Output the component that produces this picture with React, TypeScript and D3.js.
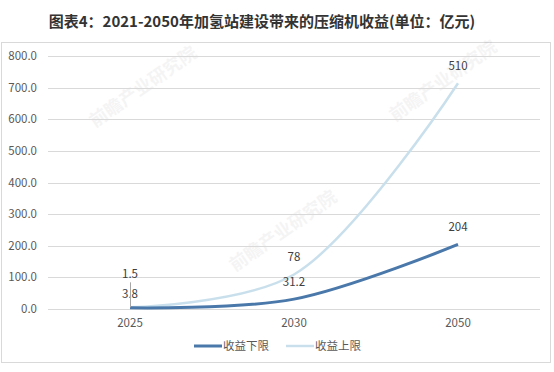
import React, { useRef, useEffect } from 'react';
import * as d3 from 'd3';

const years = ['2025', '2030', '2050'];
const lowerValues = [3.8, 31.2, 204];
const upperValues = [1.5, 78, 510];
const yTicks = [0, 100, 200, 300, 400, 500, 600, 700, 800];
const seriesNames = ['收益下限', '收益上限'];
const titleText = '图表4：2021-2050年加氢站建设带来的压缩机收益(单位：亿元)';

const App = () => {
  const svgRef = useRef<SVGSVGElement>(null);
  const width = 554;
  const height = 372;
  const margin = { top: 56, bottom: 63, left: 48, right: 14 };

  useEffect(() => {
    const svg = d3.select(svgRef.current);
    svg.selectAll('*').remove();

    const x = d3.scaleBand().domain(years).range([margin.left, width - margin.right]);
    const y = d3.scaleLinear().domain([0, 800]).range([height - margin.bottom, margin.top]);
    const cx = (d: string) => (x(d) as number) + x.bandwidth() / 2;

    // stacked: upper sits on top of lower
    const lowerPts = years.map((d, i) => ({ yr: d, v: lowerValues[i], label: lowerValues[i] }));
    const upperPts = years.map((d, i) => ({ yr: d, v: lowerValues[i] + upperValues[i], label: upperValues[i] }));

    const font = "'Noto Sans CJK SC', 'Noto Sans', sans-serif";

    svg.append('rect')
      .attr('x', 1.5).attr('y', 42.5)
      .attr('width', 549).attr('height', 320)
      .attr('fill', '#fff').attr('stroke', '#d9d9d9');

    svg.append('text')
      .attr('x', 262).attr('y', 27)
      .attr('text-anchor', 'middle')
      .attr('font-family', font)
      .attr('font-weight', 'bold')
      .attr('font-size', 15)
      .attr('fill', '#333')
      .text(titleText);

    // faint watermarks
    const wm = [[95, 128], [235, 272], [395, 122]];
    wm.forEach(([wx, wy]) => {
      svg.append('text')
        .attr('transform', `translate(${wx},${wy}) rotate(-35)`)
        .attr('font-family', font)
        .attr('font-size', 18)
        .attr('font-weight', 'bold')
        .attr('fill', '#000')
        .attr('opacity', 0.04)
        .text('前瞻产业研究院');
    });

    const grid = svg.append('g');
    grid.selectAll('line').data(yTicks).join('line')
      .attr('x1', margin.left).attr('x2', width - margin.right)
      .attr('y1', d => Math.round(y(d)) + 0.5).attr('y2', d => Math.round(y(d)) + 0.5)
      .attr('stroke', '#d9d9d9').attr('stroke-width', 1);

    svg.append('g').selectAll('text').data(yTicks).join('text')
      .attr('x', 37).attr('y', d => y(d) + 4)
      .attr('text-anchor', 'end')
      .attr('font-family', font).attr('font-size', 11.5)
      .attr('fill', '#595959')
      .text(d => d.toFixed(1));

    svg.append('g').selectAll('text').data(years).join('text')
      .attr('x', d => cx(d)).attr('y', height - margin.bottom + 18)
      .attr('text-anchor', 'middle')
      .attr('font-family', font).attr('font-size', 11.5)
      .attr('fill', '#595959')
      .text(d => d);

    const line = d3.line<{ yr: string; v: number }>()
      .x(d => cx(d.yr))
      .y(d => y(d.v))
      .curve(d3.curveCatmullRom.alpha(0.5));

    svg.append('path').datum(upperPts)
      .attr('d', line).attr('fill', 'none')
      .attr('stroke', '#c9e0ec').attr('stroke-width', 2.5);

    svg.append('path').datum(lowerPts)
      .attr('d', line).attr('fill', 'none')
      .attr('stroke', '#4a78aa').attr('stroke-width', 3);

    // data labels
    const labelG = svg.append('g')
      .attr('font-family', font).attr('font-size', 11.5).attr('fill', '#404040')
      .attr('text-anchor', 'middle');

    lowerPts.forEach((p, i) => {
      const ly = i === 0 ? y(p.v) - 10 : y(p.v) - 13;
      labelG.append('text').attr('x', cx(p.yr)).attr('y', ly).text(p.label);
    });
    upperPts.forEach((p, i) => {
      if (i === 0) {
        labelG.append('text').attr('x', cx(p.yr)).attr('y', y(p.v) - 29).text(p.label);
        svg.append('line')
          .attr('x1', cx(p.yr) + 0.5).attr('x2', cx(p.yr) + 0.5)
          .attr('y1', y(p.v) - 25).attr('y2', y(p.v))
          .attr('stroke', '#a6a6a6').attr('stroke-width', 1);
      } else {
        labelG.append('text').attr('x', cx(p.yr)).attr('y', y(p.v) - 13).text(p.label);
      }
    });

    // legend
    const legend = svg.append('g');
    const legendItems = [
      { name: seriesNames[0], color: '#4a78aa', w: 3, x: 194 },
      { name: seriesNames[1], color: '#c9e0ec', w: 2.5, x: 286 },
    ];
    legendItems.forEach(it => {
      legend.append('line')
        .attr('x1', it.x).attr('x2', it.x + 28)
        .attr('y1', 346).attr('y2', 346)
        .attr('stroke', it.color).attr('stroke-width', it.w);
      legend.append('text')
        .attr('x', it.x + 29).attr('y', 350)
        .attr('font-family', font).attr('font-size', 11.5)
        .attr('fill', '#595959')
        .text(it.name);
    });
  }, []);

  return (
    <svg ref={svgRef} width={width} height={height}
      style={{ position: 'absolute', left: 0, top: 0, background: '#fff' }} />
  );
};

export default App;
